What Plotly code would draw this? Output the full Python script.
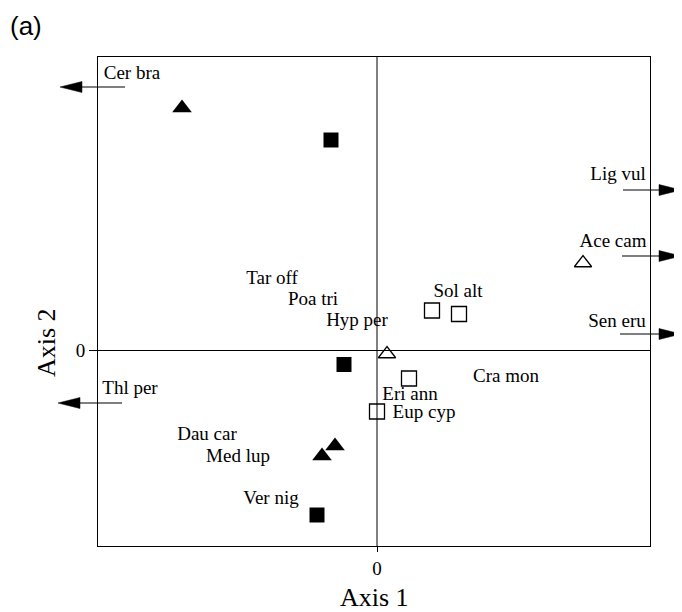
import plotly.graph_objects as go

# ---- data (axis units) ----
filled_tri_x = [-1.95, -0.42, -0.55]
filled_tri_y = [2.425, -0.955, -1.055]
filled_sq_x = [-0.46, -0.33, -0.60]
filled_sq_y = [2.105, -0.14, -1.645]
open_tri_x = [2.06, 0.10]
open_tri_y = [0.875, -0.035]
open_sq_x = [0.55, 0.82, 0.32, 0.00]
open_sq_y = [0.40, 0.365, -0.28, -0.61]

species = ["Cer bra", "Tar off", "Poa tri", "Hyp per", "Sol alt", "Cra mon",
           "Eri ann", "Eup cyp", "Thl per", "Dau car", "Med lup", "Ver nig",
           "Lig vul", "Ace cam", "Sen eru"]
species_x = [-2.45, -1.05, -0.64, -0.20, 0.81, 1.29, 0.33, 0.47, -2.47,
             -1.70, -1.39, -1.06, 2.41, 2.36, 2.40]
species_y = [2.765, 0.715, 0.505, 0.295, 0.585, -0.265, -0.445, -0.63,
             -0.385, -0.845, -1.065, -1.485, 1.755, 1.085, 0.285]

# arrows pointing off the plot (tail x, tip x, y)
arrow_tail_x = [-2.52, -2.55, 2.46, 2.45, 2.43]
arrow_tip_x = [-3.17, -3.19, 3.04, 3.04, 3.04]
arrow_y = [2.635, -0.525, 1.605, 0.945, 0.165]

x_tick_vals = [0]
y_tick_vals = [0]
x_tick_text = ["0"]
y_tick_text = ["0"]

X_RANGE = [-2.79, 2.73]
Y_RANGE = [-1.955, 2.935]

# page has an 8px body margin, so the figure is 8px smaller than the window
W, H = 674, 604
ML, MR, MT, MB = 90, 32, 49, 66
PW = W - ML - MR
PH = H - MT - MB

serif = "Liberation Serif"

fig = go.Figure()

fig.add_trace(go.Scatter(x=filled_tri_x, y=filled_tri_y, mode="markers",
                         marker=dict(symbol="triangle-up", size=17, color="black"),
                         showlegend=False))
fig.add_trace(go.Scatter(x=filled_sq_x, y=filled_sq_y, mode="markers",
                         marker=dict(symbol="square", size=15, color="black"),
                         showlegend=False))
fig.add_trace(go.Scatter(x=open_tri_x, y=open_tri_y, mode="markers",
                         marker=dict(symbol="triangle-up-open", size=15, color="black",
                                     line=dict(width=1.3)),
                         showlegend=False))
fig.add_trace(go.Scatter(x=open_sq_x, y=open_sq_y, mode="markers",
                         marker=dict(symbol="square-open", size=15, color="black",
                                     line=dict(width=1.3)),
                         showlegend=False))
fig.add_trace(go.Scatter(x=species_x, y=species_y, mode="text", text=species,
                         textposition="middle center",
                         textfont=dict(family=serif, size=19, color="black"),
                         cliponaxis=False, showlegend=False))


def px_x(v):
    return (v - X_RANGE[0]) / (X_RANGE[1] - X_RANGE[0])


def px_y(v):
    return (v - Y_RANGE[0]) / (Y_RANGE[1] - Y_RANGE[0])


head_len = 22 / PW
head_half = 5.5 / PH
shapes = []
for tx, hx, yy in zip(arrow_tail_x, arrow_tip_x, arrow_y):
    xt, xh, yp = px_x(tx), px_x(hx), px_y(yy)
    d = 1 if xh > xt else -1
    base = xh - d * head_len
    shapes.append(dict(type="line", xref="paper", yref="paper", x0=xt, x1=base,
                       y0=yp, y1=yp, line=dict(color="black", width=1.2)))
    shapes.append(dict(type="path", xref="paper", yref="paper",
                       path=f"M {xh} {yp} L {base} {yp + head_half} L {base} {yp - head_half} Z",
                       fillcolor="black", line=dict(color="black", width=0.5)))

# zero lines
shapes.append(dict(type="line", xref="x", yref="paper", x0=0, x1=0, y0=0, y1=1,
                   line=dict(color="black", width=1), layer="below"))
shapes.append(dict(type="line", xref="paper", yref="y", x0=0, x1=1, y0=0, y1=0,
                   line=dict(color="black", width=1), layer="below"))

fig.update_layout(
    width=W, height=H,
    margin=dict(l=ML, r=MR, t=MT, b=MB),
    paper_bgcolor="white", plot_bgcolor="white",
    shapes=shapes,
    xaxis=dict(range=X_RANGE, showgrid=False, zeroline=False, showline=True,
               linecolor="black", linewidth=1, mirror=True,
               tickvals=x_tick_vals, ticktext=x_tick_text, ticks="outside",
               ticklen=5, tickcolor="black",
               tickfont=dict(family=serif, size=19, color="black")),
    yaxis=dict(range=Y_RANGE, showgrid=False, zeroline=False, showline=True,
               linecolor="black", linewidth=1, mirror=True,
               tickvals=y_tick_vals, ticktext=y_tick_text, ticks="outside",
               ticklen=8, tickcolor="black",
               tickfont=dict(family=serif, size=19, color="black")),
    annotations=[
        dict(text="(a)", xref="paper", yref="paper", x=-ML / PW, y=1.0,
             xanchor="left", yanchor="bottom", yshift=14, showarrow=False,
             font=dict(family="Liberation Sans", size=26, color="black")),
        dict(text="Axis 1", xref="paper", yref="paper", x=0.5, y=0,
             xanchor="center", yanchor="middle", yshift=-51, showarrow=False,
             font=dict(family=serif, size=26, color="black")),
        dict(text="Axis 2", xref="paper", yref="paper", x=0, y=(546 - 343) / 489,
             xanchor="center", yanchor="middle", xshift=-52, textangle=-90,
             showarrow=False, font=dict(family=serif, size=26, color="black")),
    ],
)

fig.write_html("out.html")
